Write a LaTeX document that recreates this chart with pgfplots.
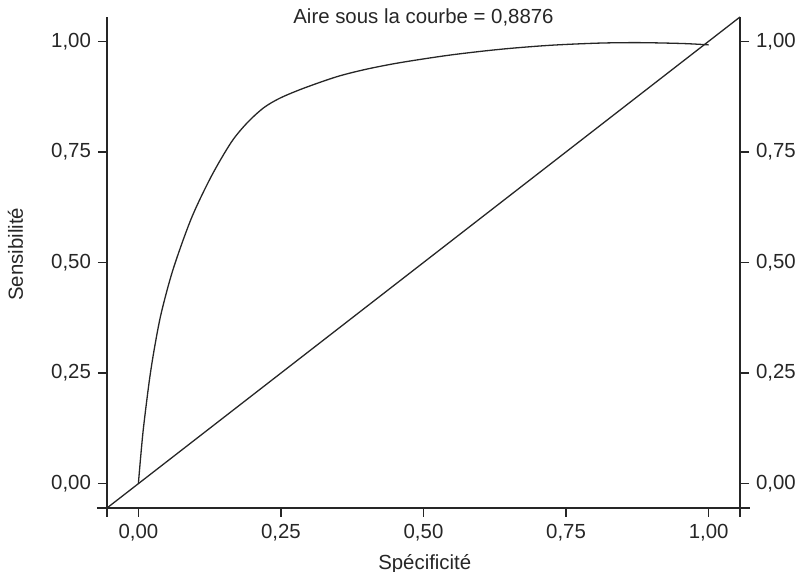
\documentclass[border=0pt]{standalone}
\usepackage{fontspec}
\setmainfont{Liberation Sans}
\usepackage{pgfplots}
\pgfplotsset{compat=1.18}
\pgfplotstableread{
x y
0 0
0.004 0.06
0.008 0.115
0.013 0.17
0.020 0.24
0.028 0.305
0.040 0.385
0.061 0.485
0.093 0.600
0.128 0.695
0.163 0.772
0.191 0.816
0.220 0.850
0.249 0.872
0.290 0.894
0.348 0.920
0.400 0.937
0.460 0.952
0.547 0.969
0.635 0.982
0.722 0.991
0.809 0.996
0.880 0.997
0.955 0.995
1.0 0.992
}\roc
\pgfplotstableread{
x y
-0.055 -0.055
1.055 1.055
}\diag
\colorlet{ink}{black!85}
\newcommand{\fs}{\fontsize{10.2}{12}\selectfont}
\begin{document}
\begin{tikzpicture}
\pgfplotsset{
  base/.style={
    scale only axis, width=316.5pt, height=245.5pt,
    xmin=-0.055, xmax=1.055, ymin=-0.055, ymax=1.055,
    axis line style={draw=none},
    tick align=outside, major tick length=4.5pt,
    tick style={ink, line width=0.7pt},
    ytick={0,0.25,0.5,0.75,1},
    /pgf/number format/.cd, fixed, fixed zerofill, precision=2, use comma, assume math mode=true,
    /pgfplots/.cd,
    tick label style={font=\fs, text=ink},
    label style={font=\fs, text=ink},
  }
}
\begin{axis}[base,
  xtick={0,0.25,0.5,0.75,1},
  xtick pos=left, ytick pos=both,
  yticklabel pos=left,
  xlabel={Spécificité}, ylabel={Sensibilité},
  xlabel style={at={(axis description cs:0.502,-0.1249)}, anchor=base},
  ylabel style={at={(axis description cs:-0.1327,0.517)}, anchor=base},
  every axis title shift=0pt,
  title={Aire sous la courbe = 0,8876},
  title style={at={(axis description cs:0.5,0.987)}, anchor=base, font=\fs, text=ink},
  clip=false,
]
\addplot[ink, line width=0.65pt, smooth] table[x=x,y=y] {\roc};
\addplot[ink, line width=0.65pt] table[x=x,y=y] {\diag};
\coordinate (O) at (rel axis cs:0,0);
\coordinate (R) at (rel axis cs:1,0);
\coordinate (T) at (rel axis cs:0,1);
\coordinate (TR) at (rel axis cs:1,1);
\end{axis}
\begin{axis}[base,
  xtick=\empty, ytick pos=right, yticklabel pos=right,
  tick style={draw=none},
]
\end{axis}
\draw[ink, line width=0.75pt] ([xshift=-5pt]O) -- ([xshift=5pt]R);
\draw[ink, line width=0.75pt] ([yshift=-4.5pt]O) -- (T);
\draw[ink, line width=0.75pt] ([yshift=-4.5pt]R) -- (TR);
\pgfresetboundingbox
\path[use as bounding box] ([shift={(-53.5pt,-32pt)}]O) rectangle ++(399.5pt,286pt);
\end{tikzpicture}
\end{document}
